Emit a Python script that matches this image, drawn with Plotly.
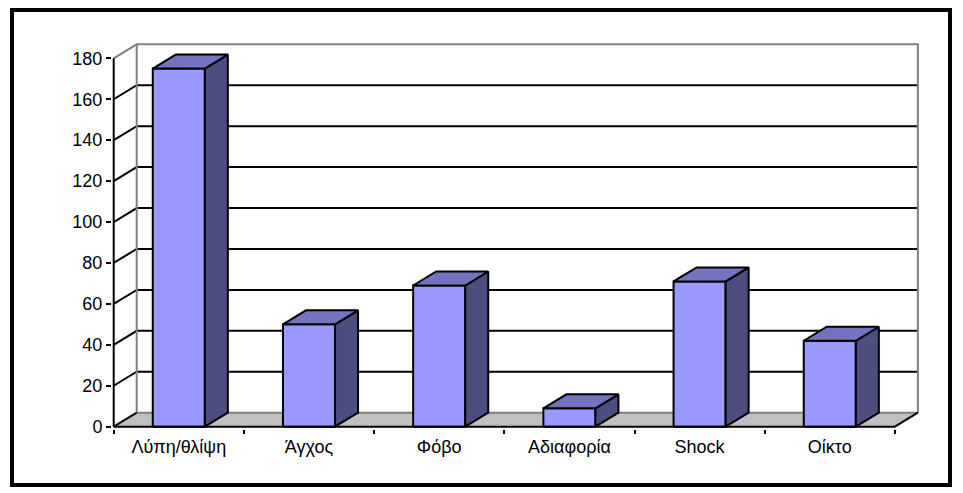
import plotly.graph_objects as go

# Emotional reactions: number of responses per category
categories = ["Λύπη/θλίψη", "Άγχος", "Φόβο", "Αδιαφορία", "Shock", "Οίκτο"]
counts = [175, 50, 69, 9, 71, 42]
y_ticks = [0, 20, 40, 60, 80, 100, 120, 140, 160, 180]

# Colours of the pseudo-3D column chart
FRONT = "#9999FF"
TOP = "#7373BF"
SIDE = "#4D4D80"
FLOOR = "#C0C0C0"
WALL_EDGE = "#808080"

# Page / plot-area geometry in pixels
W, H = 963, 493
CAT_PX = 130.2        # width of one category slot
UNIT_PX = 2.0467      # pixels per value unit
AXIS_X_PX = 113.7     # front value axis
AXIS_Y_PX = 426.7     # front category axis
DEPTH_X_PX, DEPTH_Y_PX = 23, 14
PLOT_L, PLOT_R, PLOT_T, PLOT_B = 112, 920, 42, 429

dx = DEPTH_X_PX / CAT_PX
dy = DEPTH_Y_PX / UNIT_PX
xr0 = -0.5 - (AXIS_X_PX - PLOT_L) / CAT_PX
xr1 = xr0 + (PLOT_R - PLOT_L) / CAT_PX
yr0 = -(PLOT_B - AXIS_Y_PX) / UNIT_PX
yr1 = yr0 + (PLOT_B - PLOT_T) / UNIT_PX

left = -0.5
right = len(categories) - 0.5
ymax = y_ticks[-1]
half_w = 0.2

fig = go.Figure()


def line(xs, ys, color, width=2, xaxis="x"):
    fig.add_trace(go.Scatter(x=xs, y=ys, mode="lines", xaxis=xaxis,
                             line=dict(color=color, width=width),
                             hoverinfo="skip"))


def face(xs, ys, color, edge="black", width=2):
    fig.add_trace(go.Scatter(x=xs + [xs[0]], y=ys + [ys[0]], mode="lines",
                             fill="toself", fillcolor=color,
                             line=dict(color=edge, width=width),
                             hoverinfo="skip"))


# Floor
face([left, right, right + dx, left + dx], [0, 0, dy, dy], FLOOR, edge=FLOOR, width=0.1)

# Gridlines: side wall diagonal + back wall horizontal
gx, gy = [], []
for v in y_ticks[1:-1]:
    gx += [left, left + dx, right + dx, None]
    gy += [v, v + dy, v + dy, None]
line(gx, gy, "black", 2)

# Back wall outline
line([left, left + dx, right + dx, right + dx],
     [ymax, ymax + dy, ymax + dy, dy], WALL_EDGE, 2)
line([left + dx, left + dx, right + dx], [ymax + dy, dy, dy], WALL_EDGE, 2)

# Floor side edges
line([left, left + dx], [0, dy], "black", 2)
line([right, right + dx], [0, dy], "black", 2)

# Front axes
line([left, left], [0, ymax], "black", 2)
line([left, right], [0, 0], "black", 2, xaxis="x2")

# Columns
for i, v in enumerate(counts):
    cl, cr = i - half_w, i + half_w
    face([cl, cr, cr, cl], [0, 0, v, v], FRONT)
    face([cr, cr + dx, cr + dx, cr], [0, dy, v + dy, v], SIDE)
    face([cl, cr, cr + dx, cl + dx], [v, v, v + dy, v + dy], TOP)

font = dict(family="Liberation Sans, Arial, sans-serif", size=18, color="black")

fig.update_layout(
    width=W, height=H,
    margin=dict(l=PLOT_L, r=W - PLOT_R, t=PLOT_T, b=H - PLOT_B, autoexpand=False),
    paper_bgcolor="white", plot_bgcolor="white",
    showlegend=False, hovermode=False,
    font=font,
    xaxis=dict(range=[xr0, xr1], tickmode="array",
               tickvals=list(range(len(categories))), ticktext=categories,
               ticks="", ticklabelstandoff=5,
               showgrid=False, zeroline=False, showline=False,
               tickfont=font, fixedrange=True),
    xaxis2=dict(range=[xr0, xr1], overlaying="x", anchor="y", side="bottom",
                tickmode="array",
                tickvals=[k - 0.5 for k in range(len(categories) + 1)],
                ticks="outside", ticklen=4, tickwidth=2, tickcolor="black",
                showticklabels=False, showgrid=False, zeroline=False,
                showline=False, fixedrange=True),
    yaxis=dict(range=[yr0, yr1], tickmode="array", tickvals=y_ticks,
               ticks="outside", ticklen=5, tickwidth=2, tickcolor="black",
               showgrid=False, zeroline=False, showline=False,
               tickfont=font, fixedrange=True),
)

# Outer chart frame
pw, ph = PLOT_R - PLOT_L, PLOT_B - PLOT_T
fig.add_shape(type="rect", xref="paper", yref="paper",
              x0=(12 - PLOT_L) / pw, x1=(950 - PLOT_L) / pw,
              y0=(PLOT_B - 485) / ph, y1=(PLOT_B - 10) / ph,
              line=dict(color="black", width=4), fillcolor="rgba(0,0,0,0)")

fig.write_html("out.html")
